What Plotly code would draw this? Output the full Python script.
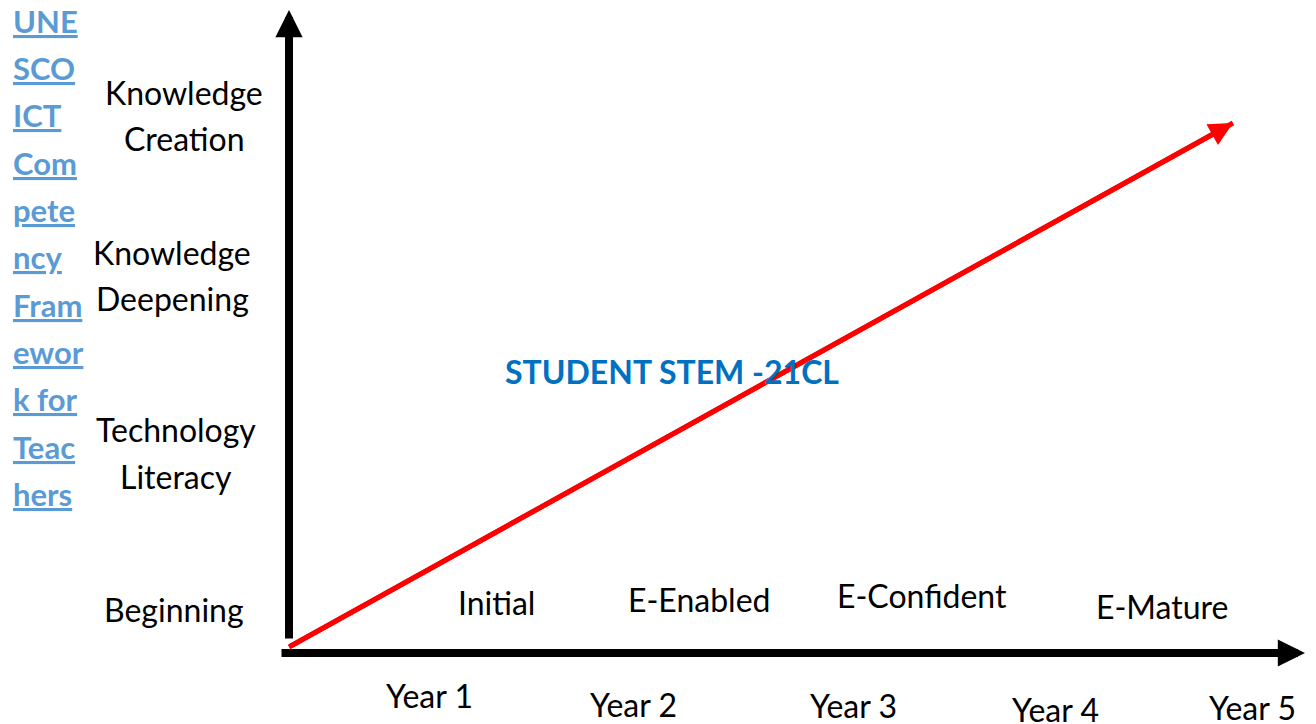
import plotly.graph_objects as go

# chart units: x = 100 px per unit from the axis origin, y likewise (upward)
link_lines = ["UNE", "SCO", "ICT", "Com", "pete", "ncy", "Fram", "ewor", "k for", "Teac", "hers"]
link_y = [6.32, 5.85, 5.38, 4.90, 4.43, 3.96, 3.48, 3.01, 2.54, 2.06, 1.59]

level_lines = ["Knowledge", "Creation", "Knowledge", "Deepening", "Technology", "Literacy", "Beginning"]
level_x = [-1.05, -1.05, -1.17, -1.17, -1.13, -1.13, -1.15]
level_y = [5.61, 5.15, 4.01, 3.55, 2.24, 1.77, 0.44]

stages = ["Initial", "E-Enabled", "E-Confident", "E-Mature"]
stage_x = [2.07, 4.10, 6.33, 8.73]
stage_y = [0.51, 0.54, 0.58, 0.47]

years = ["Year 1", "Year 2", "Year 3", "Year 4", "Year 5"]
year_x = [1.40, 3.44, 5.64, 7.66, 9.63]
year_y = [-0.42, -0.51, -0.52, -0.56, -0.54]

trend_x = [0.0, 9.44]
trend_y = [0.06, 5.30]

title_text = "STUDENT STEM -21CL"
title_pos = (3.83, 2.82)

FONT = "Lato"

fig = go.Figure()

# red trend line
fig.add_trace(go.Scatter(
    x=trend_x, y=trend_y, mode="lines",
    line=dict(color="#ff0000", width=5),
    hoverinfo="skip", showlegend=False,
))

ann = []
# axes with arrow heads
ann.append(dict(x=0, y=6.43, ax=0, ay=0.13, xref="x", yref="y", axref="x", ayref="y",
                text="", showarrow=True, arrowhead=2, arrowsize=0.68, arrowwidth=8, arrowcolor="black"))
ann.append(dict(x=10.16, y=0.0, ax=-0.09, ay=0.0, xref="x", yref="y", axref="x", ayref="y",
                text="", showarrow=True, arrowhead=2, arrowsize=0.68, arrowwidth=8, arrowcolor="black"))
# red arrow head
ann.append(dict(x=trend_x[1], y=trend_y[1], ax=trend_x[0], ay=trend_y[0], xref="x", yref="y",
                axref="x", ayref="y", text="", showarrow=True, arrowhead=2, arrowsize=0.95,
                arrowwidth=5, arrowcolor="#ff0000"))

for t, y in zip(link_lines, link_y):
    ann.append(dict(x=-2.78, y=y, xref="x", yref="y", text="<b><u>%s</u></b>" % t, showarrow=False,
                    xanchor="left", yanchor="middle",
                    font=dict(family=FONT, size=31, color="#5b9bd5")))

for t, x, y in zip(level_lines, level_x, level_y):
    ann.append(dict(x=x, y=y, xref="x", yref="y", text=t, showarrow=False,
                    font=dict(family=FONT, size=32, color="black")))

for t, x, y in zip(stages, stage_x, stage_y):
    ann.append(dict(x=x, y=y, xref="x", yref="y", text=t, showarrow=False,
                    font=dict(family=FONT, size=32, color="black")))

for t, x, y in zip(years, year_x, year_y):
    ann.append(dict(x=x, y=y, xref="x", yref="y", text=t, showarrow=False,
                    font=dict(family=FONT, size=32, color="black")))

ann.append(dict(x=title_pos[0], y=title_pos[1], xref="x", yref="y", text="<b>%s</b>" % title_text,
                showarrow=False, font=dict(family=FONT, size=32, color="#0070c0")))

# page body adds an 8 px offset, so the figure is 8 px smaller and ranges shifted
fig.update_layout(
    width=1308, height=716,
    margin=dict(l=0, r=0, t=0, b=0),
    paper_bgcolor="white", plot_bgcolor="white",
    xaxis=dict(range=[-2.81, 10.27], visible=False, fixedrange=True),
    yaxis=dict(range=[-0.71, 6.45], visible=False, fixedrange=True),
    annotations=ann,
    showlegend=False,
)

fig.write_html("out.html")
